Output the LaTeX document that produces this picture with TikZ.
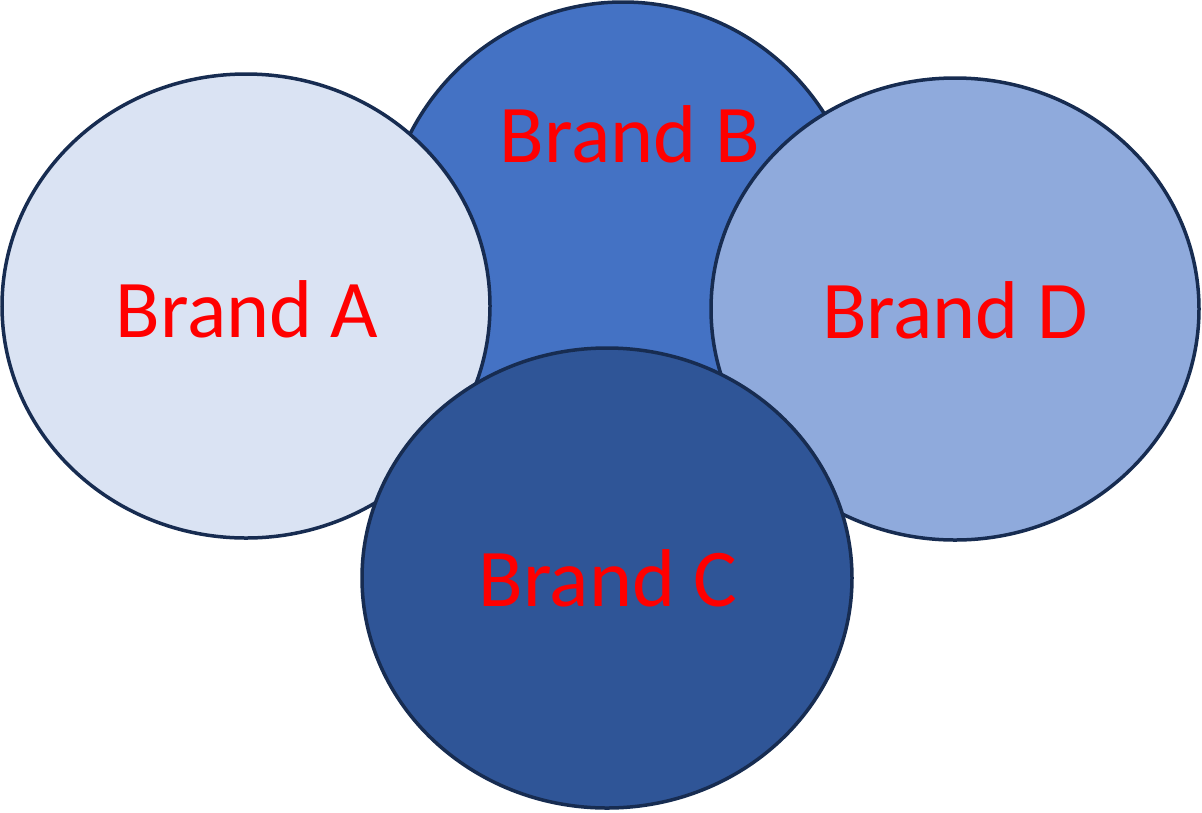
\documentclass[tikz,border=0pt]{standalone}
\usepackage{fontspec}
\newfontfamily\brandfont{Carlito}
\definecolor{edge}{HTML}{172C51}
\definecolor{fillA}{HTML}{DAE3F3}
\definecolor{fillB}{HTML}{4472C4}
\definecolor{fillC}{HTML}{2F5597}
\definecolor{fillD}{HTML}{8FAADC}
\definecolor{brandred}{HTML}{FF0000}
\tikzset{
  bubble/.style={draw=edge, line width=3.5pt},
  label/.style={text=brandred, font=\brandfont\fontsize{82}{98}\selectfont, inner sep=0pt}
}
\begin{document}
\begin{tikzpicture}[x=1pt,y=-1pt]
\useasboundingbox (0,0) rectangle (1202,812);
\draw[bubble, fill=fillB] (623,247) ellipse [x radius=240, y radius=245];
\draw[bubble, fill=fillA] (246,306) ellipse [x radius=244, y radius=232];
\draw[bubble, fill=fillD] (955,309) ellipse [x radius=244, y radius=231];
\draw[bubble, fill=fillC] (607,578) ellipse [x radius=245, y radius=230];
\node[label] (a) at (247,309) {Brand A};
\node[label] (b) at (630,134) {Brand B};
\node[label] (d) at (955,310) {Brand D};
\node[label] (c) at (608,578) {Brand C};
\end{tikzpicture}
\end{document}
